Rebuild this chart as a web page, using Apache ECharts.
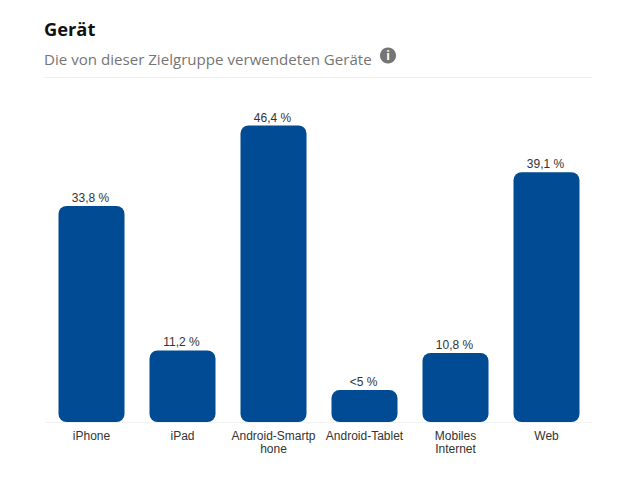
<!DOCTYPE html>
<html>
<head>
<meta charset="utf-8">
<style>html,body{margin:0;padding:0;background:#fff}#c{width:629px;height:491px}</style>
<script src="https://cdn.jsdelivr.net/npm/echarts@6/dist/echarts.min.js"></script>
</head>
<body>
<div id="c"></div>
<script>
const categories = ['iPhone', 'iPad', 'Android-Smartp\nhone', 'Android-Tablet', 'Mobiles\nInternet', 'Web'];
const values = [33.8, 11.2, 46.4, 5, 10.8, 39.1];
const valueLabels = ['33,8 %', '11,2 %', '46,4 %', '<5 %', '10,8 %', '39,1 %'];
const titleText = 'Gerät';
const subtitleText = 'Die von dieser Zielgruppe verwendeten Geräte';

const chart = echarts.init(document.getElementById('c'), null, {renderer: 'svg'});
chart.setOption({
  animation: false,
  backgroundColor: '#fff',
  title: [
    {text: titleText, left: 44, top: 19, padding: 0,
     textStyle: {fontFamily: 'Open Sans', fontSize: 18.3, fontWeight: 700, color: '#111'}},
    {text: subtitleText, left: 44, top: 51, padding: 0,
     textStyle: {fontFamily: 'Open Sans', fontSize: 15.1, fontWeight: 400, color: '#757575'}}
  ],
  grid: {left: 46, width: 546, top: 102.5, bottom: 69, containLabel: false},
  xAxis: {
    type: 'category',
    data: categories,
    axisTick: {show: false},
    axisLine: {show: true, lineStyle: {color: '#f2f2f2', width: 1}},
    axisLabel: {interval: 0, margin: 7, lineHeight: 13, fontFamily: 'Liberation Sans', fontSize: 12, color: '#333'}
  },
  yAxis: {type: 'value', min: 0, max: 50, show: false, splitLine: {show: false}},
  series: [{
    type: 'bar',
    data: values,
    barWidth: 66,
    itemStyle: {color: '#004B93', borderRadius: 8},
    label: {
      show: true, position: 'top', distance: 2, offset: [-1, 0],
      fontFamily: 'Liberation Sans', fontSize: 12, color: '#333',
      formatter: p => valueLabels[p.dataIndex]
    }
  }],
  graphic: [
    {type: 'line', shape: {x1: 44, y1: 77.5, x2: 592, y2: 77.5}, style: {stroke: '#eeeeee', lineWidth: 1}},
    {type: 'circle', shape: {cx: 388, cy: 55.5, r: 8}, style: {fill: '#757575'}},
    {type: 'text', style: {x: 388, y: 55.5, text: 'i', align: 'center', verticalAlign: 'middle',
      fill: '#fff', font: '700 12px "Open Sans"'}}
  ]
});
</script>
</body>
</html>
